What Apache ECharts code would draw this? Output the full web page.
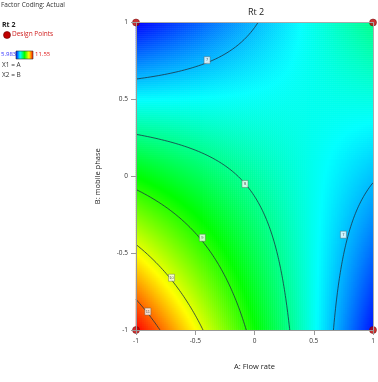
<!DOCTYPE html>
<html>
<head>
<meta charset="utf-8">
<script src="https://cdn.jsdelivr.net/npm/echarts@6/dist/echarts.min.js"></script>
<style>
html, body { margin: 0; padding: 0; background: #fff; }
#main { width: 378px; height: 382px; }
</style>
</head>
<body>
<div id="main"></div>
<script>
// Rt 2 quadratic model in coded factors: b0, A, B, AB, A^2, B^2
var coef = [7.88, -0.86, -0.92, 1.87, 0.02, 0.01];
var rtRange = [5.983, 11.55];
var contourLevels = [7, 8, 9, 10, 11];
// flag positions on the contours [A, B, level]
var contourLabels = [[-0.40, 0.755, 7], [0.75, -0.38, 7], [-0.08, -0.05, 8], [-0.44, -0.40, 9], [-0.70, -0.66, 10], [-0.90, -0.88, 11]];
var designPoints = [[-1, -1], [-1, 1], [1, -1], [1, 1]];
var tickValues = [-1, -0.5, 0, 0.5, 1];
var rainbow = ['#0000ff', '#00ffff', '#00ff00', '#ffff00', '#ff0000'];

var NX = 119, NY = 154;
var FONT = '"Open Sans", "Noto Sans", sans-serif';

function rt(a, b) {
    return coef[0] + coef[1] * a + coef[2] * b + coef[3] * a * b + coef[4] * a * a + coef[5] * b * b;
}

// heatmap cells (category grid laid over the value grid)
var cells = [], xCats = [], yCats = [];
for (var i = 0; i < NX; i++) xCats.push(i);
for (var j = 0; j < NY; j++) yCats.push(j);
for (var i = 0; i < NX; i++) {
    for (var j = 0; j < NY; j++) {
        var a = -1 + (i + 0.5) * 2 / NX, b = -1 + (j + 0.5) * 2 / NY;
        cells.push([i, j, rt(a, b)]);
    }
}

// B on a contour for given A
function solveB(a, L) {
    var qa = coef[5], qb = coef[2] + coef[3] * a, qc = coef[0] + coef[1] * a + coef[4] * a * a - L;
    var roots = [];
    if (Math.abs(qa) < 1e-9) {
        if (qb !== 0) roots.push(-qc / qb);
    } else {
        var d = qb * qb - 4 * qa * qc;
        if (d >= 0) {
            var s = Math.sqrt(d);
            roots.push((-qb + s) / (2 * qa), (-qb - s) / (2 * qa));
        }
    }
    roots = roots.filter(function (r) { return r >= -1.3 && r <= 1.3; });
    return roots.length ? roots[0] : null;
}

var contourSeries = contourLevels.map(function (L) {
    var pts = [];
    for (var k = 0; k <= 500; k++) {
        var a = -1 + k * 0.004;
        var b = solveB(a, L);
        pts.push(b === null ? [a, '-'] : [a, b]);
    }
    return {
        type: 'line', xAxisIndex: 1, yAxisIndex: 1, data: pts,
        symbol: 'none', connectNulls: false, clip: true, z: 3, silent: true,
        lineStyle: { color: '#1c3444', width: 0.8 }
    };
});

var chart = echarts.init(document.getElementById('main'), null, { renderer: 'canvas' });

var gridBox = { left: 136, right: 5, top: 22.5, bottom: 52 };

var option = {
    animation: false,
    grid: [
        Object.assign({}, gridBox),
        Object.assign({}, gridBox)
    ],
    visualMap: {
        show: false, type: 'continuous', seriesIndex: 0,
        min: rtRange[0], max: rtRange[1],
        inRange: { color: rainbow }
    },
    xAxis: [
        { type: 'category', gridIndex: 0, data: xCats, show: false, boundaryGap: true },
        {
            type: 'value', gridIndex: 1, min: -1, max: 1, interval: 0.5, position: 'bottom', z: 10,
            name: 'A: Flow rate', nameLocation: 'middle', nameGap: 33,
            nameTextStyle: { fontSize: 7.5, color: '#222', fontFamily: FONT },
            axisLine: { show: true, onZero: false, lineStyle: { color: '#999', width: 1 } },
            axisTick: { show: true, length: 5, lineStyle: { color: '#999' } },
            axisLabel: { fontSize: 6.5, color: '#333', margin: 8, fontFamily: FONT,
                formatter: function (v) { return tickValues.indexOf(v) >= 0 ? String(v) : ''; } },
            splitLine: { show: false }
        },
        {
            type: 'value', gridIndex: 1, min: -1, max: 1, position: 'top', z: 10,
            axisLine: { show: true, onZero: false, lineStyle: { color: '#aaa', width: 1 } },
            axisTick: { show: false }, axisLabel: { show: false }, splitLine: { show: false }
        }
    ],
    yAxis: [
        { type: 'category', gridIndex: 0, data: yCats, show: false, boundaryGap: true },
        {
            type: 'value', gridIndex: 1, min: -1, max: 1, interval: 0.5, position: 'left', z: 10,
            name: 'B: mobile phase', nameLocation: 'middle', nameGap: 34,
            nameTextStyle: { fontSize: 7.5, color: '#222', fontFamily: FONT },
            axisLine: { show: true, onZero: false, lineStyle: { color: '#999', width: 1 } },
            axisTick: { show: true, length: 5, lineStyle: { color: '#999' } },
            axisLabel: { fontSize: 6.5, color: '#333', margin: 8, fontFamily: FONT },
            splitLine: { show: false }
        },
        {
            type: 'value', gridIndex: 1, min: -1, max: 1, position: 'right', z: 10,
            axisLine: { show: true, onZero: false, lineStyle: { color: '#aaa', width: 1 } },
            axisTick: { show: false }, axisLabel: { show: false }, splitLine: { show: false }
        }
    ],
    graphic: [
        { type: 'text', left: 1, top: 2, style: { text: 'Factor Coding: Actual', fill: '#333', font: '6.5px ' + FONT } },
        { type: 'text', left: 2, top: 21, style: { text: 'Rt 2', fill: '#222', font: 'bold 7px ' + FONT } },
        { type: 'circle', shape: { cx: 7, cy: 35, r: 3.5 }, style: { fill: '#c00000', stroke: '#6a0000', lineWidth: 0.6 } },
        { type: 'text', left: 12, top: 31, style: { text: 'Design Points', fill: '#d02020', font: '6.5px ' + FONT } },
        { type: 'text', left: 1, top: 51.5, style: { text: '5.983', fill: '#3030ff', font: '6px ' + FONT } },
        {
            type: 'rect', shape: { x: 16, y: 51, width: 17, height: 8 },
            style: {
                stroke: '#333', lineWidth: 0.6,
                fill: new echarts.graphic.LinearGradient(0, 0, 1, 0, rainbow.map(function (c, k) {
                    return { offset: k / (rainbow.length - 1), color: c };
                }))
            }
        },
        { type: 'text', left: 35, top: 51.5, style: { text: '11.55', fill: '#e02020', font: '6px ' + FONT } },
        { type: 'text', left: 2, top: 62, style: { text: 'X1 = A', fill: '#333', font: '6.5px ' + FONT } },
        { type: 'text', left: 2, top: 72, style: { text: 'X2 = B', fill: '#333', font: '6.5px ' + FONT } },
        { type: 'text', left: 248, top: 8, style: { text: 'Rt 2', fill: '#222', font: '9px ' + FONT } }
    ],
    series: [
        {
            type: 'heatmap', xAxisIndex: 0, yAxisIndex: 0, data: cells,
            progressive: 0, silent: true, z: 2,
            emphasis: { disabled: true }
        }
    ].concat(contourSeries).concat([
        {
            type: 'scatter', xAxisIndex: 1, yAxisIndex: 1, z: 5, silent: true,
            data: contourLabels.map(function (d) { return [d[0], d[1], d[2]]; }),
            symbol: 'rect', symbolSize: [6, 7],
            itemStyle: { color: '#fff', borderColor: '#555', borderWidth: 0.5 },
            label: {
                show: true, position: 'inside', fontSize: 4, color: '#333',
                formatter: function (p) { return p.data[2]; }
            }
        },
        {
            type: 'scatter', xAxisIndex: 1, yAxisIndex: 1, z: 6, silent: true, clip: false,
            data: designPoints, symbol: 'circle', symbolSize: 7,
            itemStyle: { color: '#c00000', borderColor: '#6a0000', borderWidth: 0.6 }
        }
    ])
};

chart.setOption(option);
</script>
</body>
</html>
